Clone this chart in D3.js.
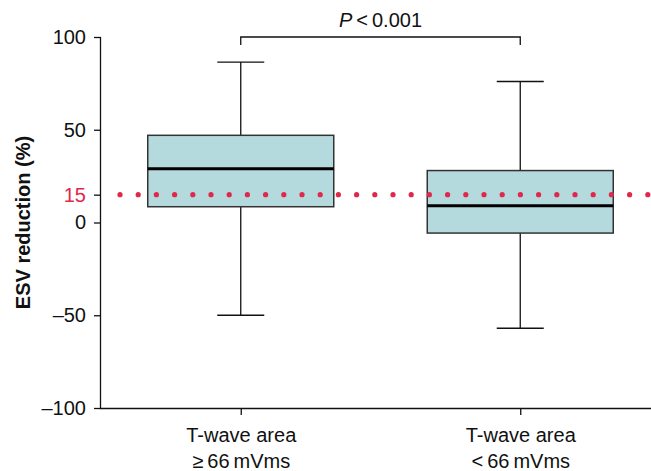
<!DOCTYPE html>
<html>
<head>
<meta charset="utf-8">
<script src="https://cdn.jsdelivr.net/npm/d3@7"></script>
<style>
  body { margin: 0; background: #fff; }
  text { font-family: "Liberation Sans", Arial, sans-serif; }
</style>
</head>
<body>
<svg id="chart"></svg>
<script>
// data
const groups = ['ge66', 'lt66'];
const groupLines = [['T-wave area', '\u2265\u200966\u2009mVms'], ['T-wave area', '<\u200966\u2009mVms']];
const whiskerLow = [-50, -57];
const q1 = [8.5, -5.7];
const median = [29, 9];
const q3 = [47, 28];
const whiskerHigh = [86.5, 76];
const yTicks = [100, 50, 15, 0, -50, -100];
const threshold = 15;
const pLabel = '0.001';

const W = 651, H = 471;
const margin = { top: 37, right: 0, bottom: 63, left: 101 };
const fs = 20;

const svg = d3.select('#chart').attr('width', W).attr('height', H);

const y = d3.scaleLinear().domain([-100, 100]).range([H - margin.bottom, margin.top]);
const x = d3.scalePoint().domain(groups).range([margin.left, 660]).padding(0.5);
const boxW = 186, capW = 47;
const red = '#e0284a';

// boxes
const stats = groups.map((g, i) => ({ g, lo: whiskerLow[i], q1: q1[i], med: median[i], q3: q3[i], hi: whiskerHigh[i] }));
const box = svg.append('g').selectAll('g').data(stats).join('g');

box.append('line')
  .attr('x1', d => x(d.g)).attr('x2', d => x(d.g))
  .attr('y1', d => y(d.hi)).attr('y2', d => y(d.lo))
  .attr('stroke', '#111').attr('stroke-width', 1.3);
box.append('line')
  .attr('x1', d => x(d.g) - capW / 2).attr('x2', d => x(d.g) + capW / 2)
  .attr('y1', d => y(d.hi)).attr('y2', d => y(d.hi))
  .attr('stroke', '#111').attr('stroke-width', 1.3);
box.append('line')
  .attr('x1', d => x(d.g) - capW / 2).attr('x2', d => x(d.g) + capW / 2)
  .attr('y1', d => y(d.lo)).attr('y2', d => y(d.lo))
  .attr('stroke', '#111').attr('stroke-width', 1.3);
box.append('rect')
  .attr('x', d => x(d.g) - boxW / 2)
  .attr('width', boxW)
  .attr('y', d => y(d.q3))
  .attr('height', d => y(d.q1) - y(d.q3))
  .attr('fill', '#b4dade')
  .attr('stroke', '#333').attr('stroke-width', 1.5);
box.append('line')
  .attr('x1', d => x(d.g) - boxW / 2).attr('x2', d => x(d.g) + boxW / 2)
  .attr('y1', d => y(d.med)).attr('y2', d => y(d.med))
  .attr('stroke', '#000').attr('stroke-width', 3);

// threshold dots, on top of the boxes
svg.append('g').selectAll('circle')
  .data(d3.range(120, W + 5, 18.2))
  .join('circle')
  .attr('cx', d => d)
  .attr('cy', y(threshold))
  .attr('r', 2.6)
  .attr('fill', red);

// y axis
const yAxis = svg.append('g')
  .attr('transform', `translate(${margin.left},0)`)
  .call(d3.axisLeft(y).tickValues(yTicks).tickSize(7).tickPadding(8)
    .tickFormat(d => d < 0 ? '\u2013' + Math.abs(d) : d));
yAxis.select('.domain').attr('d', `M-0.5,${y(100)}V${y(-100)}`).attr('stroke', '#111').attr('stroke-width', 1.3);
yAxis.selectAll('.tick line').attr('stroke', '#111').attr('stroke-width', 1.3);
yAxis.selectAll('.tick text')
  .attr('font-size', fs)
  .attr('fill', d => d === threshold ? red : '#111');

// x axis
const xAxis = svg.append('g')
  .attr('transform', `translate(0,${y(-100)})`)
  .call(d3.axisBottom(x).tickSize(7).tickFormat(''));
xAxis.select('.domain').attr('d', `M${margin.left - 1},0.5H${W}`).attr('stroke', '#111').attr('stroke-width', 1.3);
xAxis.selectAll('.tick line').attr('stroke', '#111').attr('stroke-width', 1.3);
xAxis.selectAll('.tick').each(function (d, i) {
  const t = d3.select(this).append('text')
    .attr('text-anchor', 'middle')
    .attr('font-size', fs)
    .attr('fill', '#111');
  groupLines[i].forEach((line, k) => {
    t.append('tspan').attr('x', 0).attr('y', 34 + k * 26).text(line);
  });
});

// y label
svg.append('text')
  .attr('transform', `translate(30,${y(0)}) rotate(-90)`)
  .attr('text-anchor', 'middle')
  .attr('font-size', fs)
  .attr('font-weight', 'bold')
  .attr('fill', '#111')
  .text('ESV reduction (%)');

// significance bracket
const bx1 = x(groups[0]), bx2 = x(groups[1]);
svg.append('path')
  .attr('d', `M${bx1},${y(100) + 8}V${y(100)}H${bx2}V${y(100) + 8}`)
  .attr('fill', 'none').attr('stroke', '#111').attr('stroke-width', 1.3);
const pt = svg.append('text')
  .attr('x', (bx1 + bx2) / 2)
  .attr('y', 27)
  .attr('text-anchor', 'middle')
  .attr('font-size', fs)
  .attr('fill', '#111');
pt.append('tspan').attr('font-style', 'italic').text('P');
pt.append('tspan').text('\u2009<\u2009' + pLabel);
</script>
</body>
</html>
